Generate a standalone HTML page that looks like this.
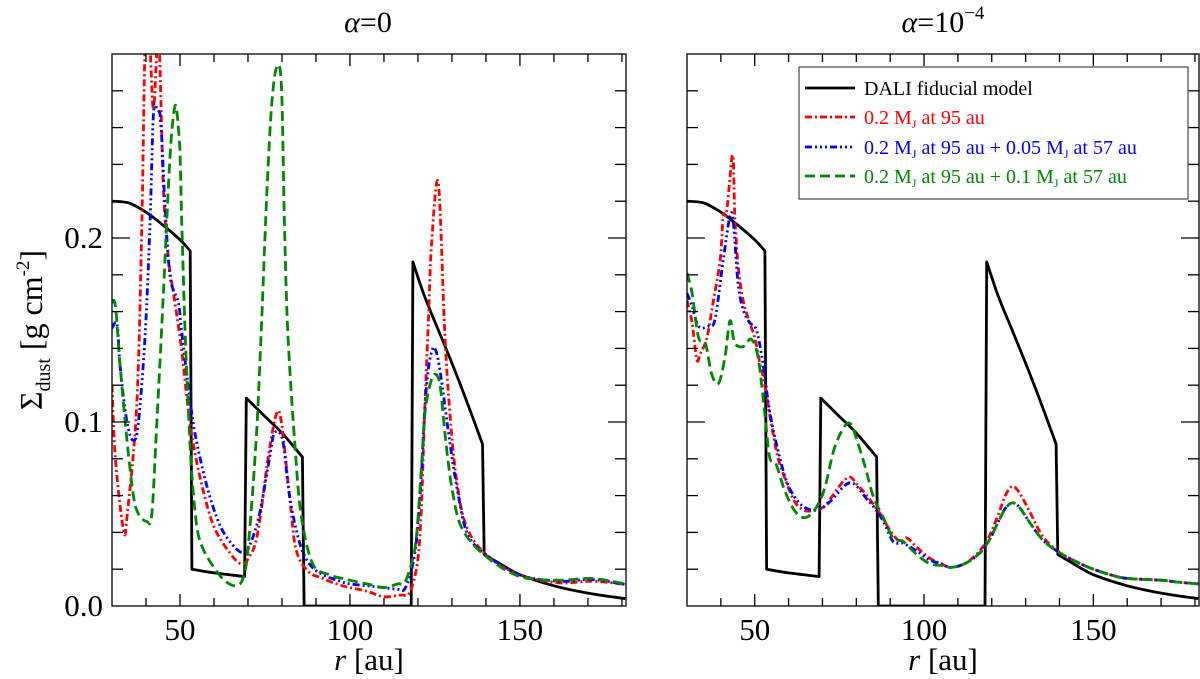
<!DOCTYPE html>
<html><head><meta charset="utf-8"><style>
html,body{margin:0;padding:0;background:#fff}
svg{display:block;font-family:"Liberation Serif",serif}
</style></head><body>
<svg id="chart" width="1200" height="679" viewBox="0 0 1200 679" xmlns="http://www.w3.org/2000/svg">
<defs>
<clipPath id="clipL"><rect x="112" y="54" width="514" height="552"/></clipPath>
<clipPath id="clipR"><rect x="687" y="54" width="512" height="552"/></clipPath>
</defs>
<g id="layer"></g>
<text x="368" y="32" font-size="30" text-anchor="middle"><tspan font-style="italic">α</tspan>=0</text>
<text x="943" y="32" font-size="30" text-anchor="middle"><tspan font-style="italic">α</tspan>=10<tspan font-size="19" dy="-13">−4</tspan></text>
<text x="369" y="670" font-size="31" text-anchor="middle"><tspan font-style="italic">r</tspan> [au]</text>
<text x="943" y="670" font-size="31" text-anchor="middle"><tspan font-style="italic">r</tspan> [au]</text>
<text transform="translate(42,330) rotate(-90)" font-size="32" text-anchor="middle">Σ<tspan font-size="20" dy="8">dust</tspan><tspan dy="-8"> [g cm</tspan><tspan font-size="19" dy="-13">-2</tspan><tspan dy="13">]</tspan></text>
<g>
<rect x="799" y="67" width="389" height="132" fill="#fff" stroke="#555" stroke-width="1.3"/>
<line x1="805" y1="88" x2="855" y2="88" stroke="#000" stroke-width="2.8"/>
<text x="864" y="95" font-size="20" fill="#000">DALI fiducial model</text>
<line x1="805" y1="117" x2="855" y2="117" stroke="#f00" stroke-width="2.8" stroke-dasharray="7,3,2,3"/>
<text x="864" y="124" font-size="20" fill="#f00">0.2 M<tspan font-size="12" dy="4">J</tspan><tspan dy="-4"> at 95 au</tspan></text>
<line x1="805" y1="147" x2="855" y2="147" stroke="#00f" stroke-width="2.8" stroke-dasharray="7,3,2,3,2,3,2,3"/>
<text x="864" y="154" font-size="20" fill="#00f">0.2 M<tspan font-size="12" dy="4">J</tspan><tspan dy="-4"> at 95 au + 0.05 M</tspan><tspan font-size="12" dy="4">J</tspan><tspan dy="-4"> at 57 au</tspan></text>
<line x1="805" y1="176" x2="855" y2="176" stroke="#080" stroke-width="2.8" stroke-dasharray="10,5"/>
<text x="864" y="183" font-size="20" fill="#080">0.2 M<tspan font-size="12" dy="4">J</tspan><tspan dy="-4"> at 95 au + 0.1 M</tspan><tspan font-size="12" dy="4">J</tspan><tspan dy="-4"> at 57 au</tspan></text>
</g>
</svg>
<script>
var xTicksMajor = [50, 100, 150];
var yTicksMajor = [0.0, 0.1, 0.2];
var yTickLabels = ["0.0", "0.1", "0.2"];

var fidR = [30,35,40,45,50,53,53.5,60,69,69.5,75,80,86,86.5,118,118.5,122,126,130,134,139,139.5,145,150,160,170,181];
var fidV = [0.22,0.219,0.214,0.207,0.199,0.193,0.02,0.018,0.016,0.113,0.103,0.094,0.081,0,0,0.187,0.168,0.15,0.132,0.113,0.088,0.028,0.022,0.017,0.011,0.007,0.004];

var redLR = [30,31,33.4,34.5,37.3,38.8,39.8,41,42.2,43.7,45.1,46.6,48.5,50.5,52.9,55.9,59.8,64.6,68,70.5,72.9,75.9,78.3,79.8,82.2,84.1,87.6,92,97.8,105,110,115,117,118.5,120,121,122,123,124,126,127.8,129.3,131.2,134.1,140,149.8,161.5,171.2,181];
var redLV = [0.12,0.08,0.041,0.05,0.11,0.209,0.31,0.31,0.27,0.31,0.228,0.189,0.165,0.139,0.1,0.07,0.044,0.029,0.023,0.027,0.04,0.08,0.104,0.1,0.06,0.031,0.019,0.015,0.011,0.008,0.005,0.006,0.006,0.012,0.026,0.053,0.107,0.152,0.197,0.23,0.152,0.107,0.071,0.044,0.028,0.017,0.0126,0.0135,0.0117];

var blueLR = [30,31.5,32.4,34.4,36.3,37.8,39.8,41.2,42.2,43.2,44.1,44.6,45.6,47.1,49.5,50.5,52.4,54.4,57.8,61.7,65.6,68.5,70.5,73.4,76.3,77.8,80.2,82.2,85.1,88,92,97.8,100,105,110,114,116,118,119.5,121,122,123,124,125,126.5,129.3,131.7,134.6,140,149.8,161.5,171.2,181];
var blueLV = [0.151,0.153,0.13,0.1,0.09,0.1,0.149,0.209,0.268,0.27,0.268,0.256,0.218,0.179,0.165,0.149,0.12,0.094,0.066,0.044,0.033,0.029,0.033,0.05,0.08,0.094,0.09,0.06,0.035,0.023,0.017,0.013,0.012,0.011,0.01,0.009,0.009,0.019,0.035,0.071,0.107,0.128,0.138,0.14,0.128,0.09,0.062,0.039,0.028,0.017,0.0135,0.0144,0.0117];

var greenLR = [30,31,32.4,34.4,36.3,37.8,40.2,41.7,43.2,45.1,46.6,47.6,48.8,50,50.5,51.5,52.4,53.4,54.9,56.8,60.7,63.7,66.6,68.5,70,72.4,73.9,75.4,76.8,78.3,79.8,80.7,81.7,83.7,85.6,89,93.9,97.8,100,105,110,114,116,118,119.5,121,122,123.5,125,126.5,128,130,133,140,150,161.5,171.2,181];
var greenLV = [0.165,0.163,0.13,0.09,0.06,0.05,0.046,0.05,0.1,0.169,0.228,0.258,0.272,0.248,0.209,0.149,0.11,0.074,0.044,0.031,0.019,0.013,0.011,0.015,0.031,0.09,0.149,0.218,0.268,0.292,0.284,0.209,0.149,0.09,0.05,0.023,0.017,0.015,0.014,0.012,0.01,0.012,0.0126,0.0225,0.037,0.075,0.104,0.12,0.126,0.12,0.093,0.064,0.042,0.027,0.016,0.014,0.015,0.012];

var redRR = [30,31.5,32.9,33.9,35.9,37.8,39.8,40.7,41.7,43.2,43.7,44.1,45.1,46.6,48.5,50,51.5,52.9,54.9,56.8,58.8,61.7,64.6,67.6,70.5,73.4,76.3,78.3,80.2,82.7,85.1,87.1,90,92.9,94.9,97.8,101.7,105,108,112,116,119,122,124,126,128,131,135,140,145,150,155,160,170,175,181];
var redRV = [0.166,0.154,0.134,0.137,0.146,0.166,0.188,0.212,0.214,0.243,0.243,0.212,0.185,0.166,0.154,0.146,0.132,0.121,0.099,0.081,0.07,0.057,0.052,0.052,0.054,0.061,0.068,0.07,0.066,0.061,0.055,0.05,0.041,0.035,0.037,0.032,0.026,0.023,0.021,0.023,0.029,0.037,0.05,0.06,0.065,0.062,0.052,0.038,0.029,0.024,0.02,0.017,0.015,0.014,0.013,0.012];

var blueRR = [30,31.5,33.4,36.3,38.3,40.7,42.7,43.7,45.1,46.6,48.5,50.5,52.4,54.4,56.8,59.8,63.7,67.6,70.5,73.4,76.3,78.3,80.2,82.7,85.1,88,90.9,93.9,97.8,101.7,105,108,112,116,119,122,124,126,128,131,135,140,145,150,155,160,170,175,181];
var blueRV = [0.17,0.163,0.152,0.152,0.156,0.188,0.212,0.208,0.175,0.161,0.154,0.15,0.132,0.106,0.085,0.066,0.055,0.052,0.054,0.059,0.065,0.067,0.065,0.059,0.054,0.046,0.035,0.034,0.03,0.025,0.023,0.021,0.023,0.028,0.035,0.046,0.053,0.056,0.054,0.046,0.036,0.029,0.024,0.02,0.017,0.015,0.014,0.013,0.012];

var greenRR = [30,31.5,33.4,35.4,37.3,39.3,41.2,42.7,44.1,46.6,49,51,52.9,54.4,56.3,58.8,61.7,64.6,67.6,70.5,73.4,76.3,78.3,80.2,82.7,85.1,88,90.9,93.9,97.8,101.7,105,108,112,116,119,122,124,126,128,131,135,140,145,150,155,160,170,175,181];
var greenRV = [0.181,0.17,0.146,0.143,0.126,0.121,0.135,0.155,0.143,0.141,0.145,0.135,0.106,0.081,0.077,0.063,0.052,0.048,0.052,0.063,0.085,0.097,0.099,0.09,0.075,0.059,0.048,0.037,0.035,0.028,0.023,0.022,0.021,0.023,0.028,0.035,0.046,0.053,0.056,0.054,0.046,0.036,0.029,0.024,0.02,0.017,0.015,0.014,0.013,0.012];

var NS = "http://www.w3.org/2000/svg";
var layer = document.getElementById('layer');
var XMIN = 30, XMAX = 181.2, YMIN = 0, YMAX = 0.3, TOP = 54, BOT = 606;
var panels = [
  {name:'left', x0:112, x1:626, clip:'clipL', labels:true,
   series:[[fidR,fidV,'#000','none','fiducial-line-left'],[redLR,redLV,'#f00','7,3,2,3','red-line-left'],[blueLR,blueLV,'#00f','7,3,2,3,2,3,2,3','blue-line-left'],[greenLR,greenLV,'#080','10,5','green-line-left']]},
  {name:'right', x0:687, x1:1199, clip:'clipR', labels:false,
   series:[[fidR,fidV,'#000','none','fiducial-line-right'],[redRR,redRV,'#f00','7,3,2,3','red-line-right'],[blueRR,blueRV,'#00f','7,3,2,3,2,3,2,3','blue-line-right'],[greenRR,greenRV,'#080','10,5','green-line-right']]}
];
function mk(tag, attrs){ var e=document.createElementNS(NS,tag); for(var k in attrs) e.setAttribute(k,attrs[k]); return e; }
function smoothSeg(P){
  var d='';
  for(var i=0;i<P.length-1;i++){
    var p0=P[Math.max(0,i-1)], p1=P[i], p2=P[i+1], p3=P[Math.min(P.length-1,i+2)];
    var c1x=p1[0]+(p2[0]-p0[0])/6, c1y=p1[1]+(p2[1]-p0[1])/6;
    var c2x=p2[0]-(p3[0]-p1[0])/6, c2y=p2[1]-(p3[1]-p1[1])/6;
    d+='C'+c1x.toFixed(1)+','+c1y.toFixed(1)+' '+c2x.toFixed(1)+','+c2y.toFixed(1)+' '+p2[0].toFixed(1)+','+p2[1].toFixed(1);
  }
  return d;
}
function buildPath(P, jumpPx){
  // split into smooth segments at vertical jumps (x gap tiny, y change large)
  var segs=[[P[0]]];
  for(var i=1;i<P.length;i++){
    if(P[i][0]-P[i-1][0] < jumpPx && Math.abs(P[i][1]-P[i-1][1])>20) segs.push([P[i]]);
    else segs[segs.length-1].push(P[i]);
  }
  var d='M'+P[0][0].toFixed(1)+','+P[0][1].toFixed(1);
  segs.forEach(function(s,k){
    if(k>0) d+='L'+s[0][0].toFixed(1)+','+s[0][1].toFixed(1);
    d+=smoothSeg(s);
  });
  return d;
}
panels.forEach(function(p){
  function sx(r){ return p.x0 + (r-XMIN)/(XMAX-XMIN)*(p.x1-p.x0); }
  function sy(v){ return BOT - (v-YMIN)/(YMAX-YMIN)*(BOT-TOP); }
  var g = mk('g',{});
  
  
  layer.appendChild(g);
  var lines = mk('g',{'clip-path':'url(#'+p.clip+')'});
  g.appendChild(lines);
  p.series.forEach(function(s){
    var pts=[];
    for(var i=0;i<s[0].length;i++){ pts.push([sx(s[0][i]), sy(s[1][i])]); }
    var d = buildPath(pts, 2.5);
    var path = mk('path',{d:d, fill:'none', stroke:s[2], 'stroke-width':'2.8', 'stroke-linejoin':'round'});
    if(s[3]!=='none') path.setAttribute('stroke-dasharray', s[3]);
    
    
    lines.appendChild(path);
  });
  var ax = mk('g',{stroke:'#000','stroke-width':'1.3',fill:'none'});
  
  
  g.appendChild(ax);
  ax.appendChild(mk('rect',{x:p.x0,y:TOP,width:p.x1-p.x0,height:BOT-TOP}));
  for(var r=40; r<=180; r+=10){
    var major = xTicksMajor.indexOf(r)>=0, L = major?12:8, X=sx(r);
    ax.appendChild(mk('line',{x1:X,y1:BOT,x2:X,y2:BOT-L}));
    ax.appendChild(mk('line',{x1:X,y1:TOP,x2:X,y2:TOP+L}));
  }
  for(var k=1;k<15;k++){
    var v=k*0.02, major=(k%5===0), L=major?18:11, Y=sy(v);
    ax.appendChild(mk('line',{x1:p.x0,y1:Y,x2:p.x0+L,y2:Y}));
    ax.appendChild(mk('line',{x1:p.x1,y1:Y,x2:p.x1-L,y2:Y}));
  }
  xTicksMajor.forEach(function(r){
    var t = mk('text',{x:sx(r), y:640, 'font-size':'31', 'text-anchor':'middle', fill:'#000'});
    t.textContent = String(r);
    
    
    g.appendChild(t);
  });
  if(p.labels){
    yTicksMajor.forEach(function(v,i){
      var t = mk('text',{x:103, y:sy(v)+10, 'font-size':'31', 'text-anchor':'end', fill:'#000'});
      t.textContent = yTickLabels[i];
      
      
      g.appendChild(t);
    });
  }
});
</script>
</body></html>
